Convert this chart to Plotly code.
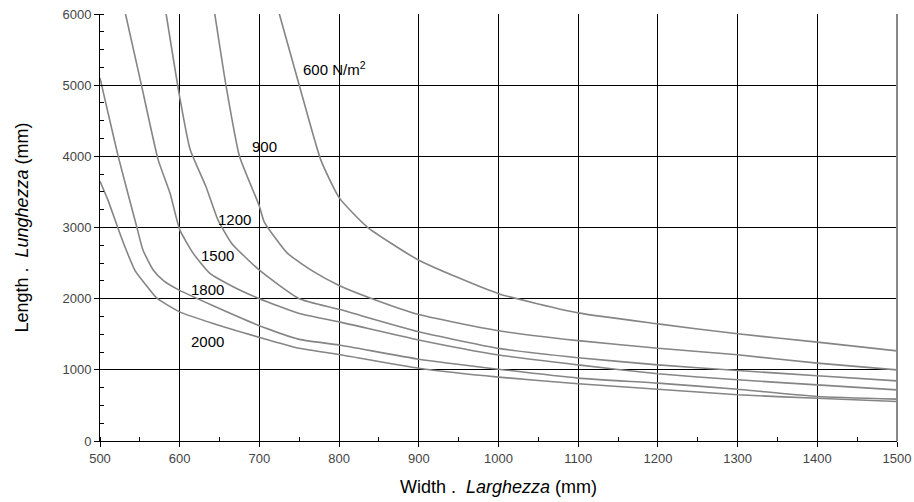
import plotly.graph_objects as go

# Curves: width (mm) -> length (mm) for each load (N/m2)
w_600 = [725, 750, 777, 800, 835, 900, 1000, 1100, 1200, 1300, 1400, 1500]
l_600 = [6000, 5000, 3950, 3420, 3010, 2540, 2070, 1800, 1646, 1506, 1389, 1267]

w_900 = [644, 658, 675, 700, 706, 735, 768, 800, 838, 900, 1000, 1100, 1200, 1300, 1400, 1500]
l_900 = [6000, 5000, 4000, 3300, 3080, 2640, 2380, 2186, 2014, 1777, 1549, 1410, 1304, 1211, 1094, 1000]

w_1200 = [583, 600, 613, 633, 648, 665, 700, 750, 800, 900, 1000, 1100, 1200, 1300, 1400, 1500]
l_1200 = [6000, 4833, 4100, 3573, 3107, 2780, 2400, 2000, 1850, 1535, 1302, 1170, 1070, 991, 916, 845]

w_1500 = [532, 552, 573, 588, 600, 617, 638, 667, 700, 750, 800, 900, 1000, 1100, 1200, 1300, 1400, 1500]
l_1500 = [6000, 5000, 3950, 3477, 2970, 2636, 2355, 2168, 2000, 1791, 1674, 1419, 1209, 1070, 944, 860, 789, 719]

w_1800 = [500, 523, 546, 554, 567, 580, 600, 642, 700, 750, 800, 900, 1000, 1100, 1200, 1300, 1400, 1500]
l_1800 = [5100, 3993, 3013, 2680, 2400, 2250, 2116, 1900, 1620, 1428, 1349, 1149, 1009, 884, 813, 728, 625, 588]

w_2000 = [500, 510, 522, 533, 544, 558, 571, 600, 642, 700, 750, 800, 900, 1000, 1100, 1200, 1300, 1400, 1500]
l_2000 = [3650, 3385, 3008, 2680, 2395, 2186, 2010, 1814, 1650, 1456, 1302, 1215, 1023, 898, 805, 728, 649, 600, 555]

curves = [
    ("600", w_600, l_600),
    ("900", w_900, l_900),
    ("1200", w_1200, l_1200),
    ("1500", w_1500, l_1500),
    ("1800", w_1800, l_1800),
    ("2000", w_2000, l_2000),
]

# Curve labels (text, x, y)
label_text = ["600 N/m<sup>2</sup>", "900", "1200", "1500", "1800", "2000"]
label_x = [794, 707, 669, 647, 635, 635]
label_y = [5240, 4143, 3118, 2612, 2135, 1404]

x_ticks = [500, 600, 700, 800, 900, 1000, 1100, 1200, 1300, 1400, 1500]
y_ticks = [0, 1000, 2000, 3000, 4000, 5000, 6000]

fig = go.Figure()
for name, xs, ys in curves:
    fig.add_trace(go.Scatter(x=xs, y=ys, mode="lines", name=name,
                             line=dict(color="#858585", width=1.6,
                                       shape="spline", smoothing=0.5),
                             hoverinfo="x+y"))

for t, x, y in zip(label_text, label_x, label_y):
    fig.add_annotation(x=x, y=y, text=t, showarrow=False,
                       font=dict(family="Liberation Sans, Arial", size=15, color="#000"))

axis_font = dict(family="Liberation Sans, Arial", size=13, color="#444")

fig.update_xaxes(range=[500, 1500], tickvals=x_ticks, showgrid=True,
                 gridcolor="#000", gridwidth=1, showline=True, linecolor="#000",
                 linewidth=1, mirror=False, ticks="outside", ticklen=5,
                 tickcolor="#000", tickfont=axis_font, zeroline=False,
                 automargin=False,
                 minor=dict(dtick=50, ticks="inside", ticklen=4, tickcolor="#000", showgrid=False),
                 title=dict(text="Width . &nbsp;<i>Larghezza</i> (mm)",
                            font=dict(family="Liberation Sans, Arial", size=18, color="#000"),
                            standoff=15))
fig.update_yaxes(range=[0, 6000], tickvals=y_ticks, showgrid=True,
                 gridcolor="#000", gridwidth=1, showline=True, linecolor="#000",
                 linewidth=1, ticks="outside", ticklen=5, tickcolor="#000",
                 tickfont=axis_font, zeroline=False, automargin=False,
                 minor=dict(dtick=250, ticks="inside", ticklen=4, tickcolor="#000", showgrid=False),
                 title=dict(text="Length . &nbsp;<i>Lunghezza</i> (mm)",
                            font=dict(family="Liberation Sans, Arial", size=18, color="#000"),
                            standoff=29))

# right border of plot area
fig.add_shape(type="line", xref="paper", yref="paper", x0=1, x1=1, y0=0, y1=1,
              line=dict(color="#888", width=2))

fig.update_layout(width=914, height=502, showlegend=False,
                  plot_bgcolor="#fff", paper_bgcolor="#fff",
                  margin=dict(l=100, r=17, t=14, b=61))

fig.write_html("out.html", config={"displayModeBar": False},
               post_script="document.body.style.margin='0';document.body.style.overflow='hidden';")
